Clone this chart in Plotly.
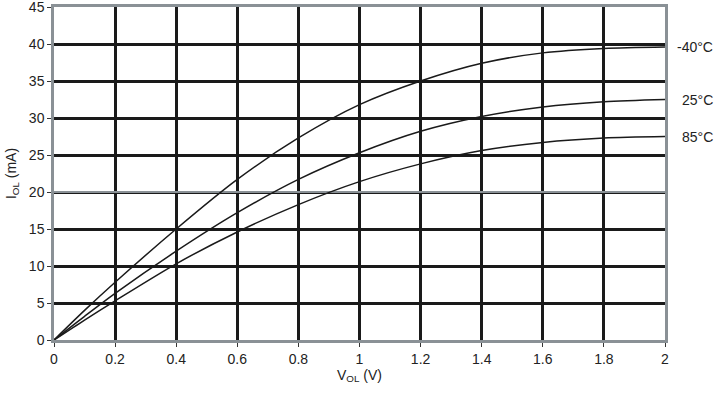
import plotly.graph_objects as go

v_ol = [0, 0.1, 0.2, 0.4, 0.6, 0.8, 1.0, 1.2, 1.4, 1.6, 1.8, 2.0]
i_m40 = [0, 4.0, 7.8, 15.0, 21.7, 27.3, 31.8, 35.0, 37.4, 38.8, 39.4, 39.6]
i_25 = [0, 3.2, 6.3, 12.0, 17.2, 21.7, 25.3, 28.2, 30.2, 31.5, 32.2, 32.5]
i_85 = [0, 2.7, 5.3, 10.3, 14.6, 18.3, 21.4, 23.8, 25.6, 26.7, 27.3, 27.5]
labels = ["-40°C", "25°C", "85°C"]
series = [i_m40, i_25, i_85]

x_ticks = [0, 0.2, 0.4, 0.6, 0.8, 1, 1.2, 1.4, 1.6, 1.8, 2]
x_ticktext = ["0", "0.2", "0.4", "0.6", "0.8", "1", "1.2", "1.4", "1.6", "1.8", "2"]
y_ticks = [0, 5, 10, 15, 20, 25, 30, 35, 40, 45]

font_family = "Liberation Sans, Arial, sans-serif"
txt_col = "#222222"

fig = go.Figure()
for ys in series:
    fig.add_trace(go.Scatter(x=v_ol, y=ys, mode="lines",
                             line=dict(color="#1a1a1a", width=1.5, shape="spline", smoothing=0.8),
                             showlegend=False, hoverinfo="skip"))

for lab, ys in zip(labels, series):
    fig.add_annotation(x=1.0, xref="paper", xshift=50, y=ys[-1], yref="y",
                       text=lab, showarrow=False, xanchor="right", yanchor="middle",
                       font=dict(family=font_family, size=14, color=txt_col))

fig.add_shape(type="line", xref="x", yref="y", x0=0, x1=2, y0=20, y1=20,
              line=dict(color="#8a9196", width=2), layer="between")

fig.update_layout(
    width=717, height=399,
    margin=dict(l=54, r=52, t=7, b=59, autoexpand=False),
    paper_bgcolor="white", plot_bgcolor="white",
    font=dict(family=font_family, size=14, color=txt_col),
    xaxis=dict(range=[0, 2], tickvals=x_ticks, ticktext=x_ticktext, automargin=False,
               showgrid=True, gridcolor="#1a1a1a", gridwidth=3,
               zeroline=False, showline=True, linecolor="#8a9196", linewidth=2.5, mirror=True,
               ticks="outside", ticklen=4, tickcolor="#333333", tickwidth=1,
               ticklabeloverflow="allow",
               tickfont=dict(family=font_family, size=14, color=txt_col),
               title=dict(text="V<sub>OL</sub> (V)", standoff=2,
                          font=dict(family=font_family, size=14, color=txt_col))),
    yaxis=dict(range=[0, 45], tickvals=y_ticks, automargin=False,
               showgrid=True, gridcolor="#1a1a1a", gridwidth=3,
               zeroline=False, showline=True, linecolor="#8a9196", linewidth=2.5, mirror=True,
               ticks="outside", ticklen=4, tickcolor="#333333", tickwidth=1,
               ticklabeloverflow="allow",
               tickfont=dict(family=font_family, size=14, color=txt_col),
               title=dict(text="I<sub>OL</sub> (mA)", standoff=9,
                          font=dict(family=font_family, size=14, color=txt_col))),
)

fig.write_html("out.html", config={"displayModeBar": False},
               post_script="document.body.style.margin='0';document.body.style.overflow='hidden';")
